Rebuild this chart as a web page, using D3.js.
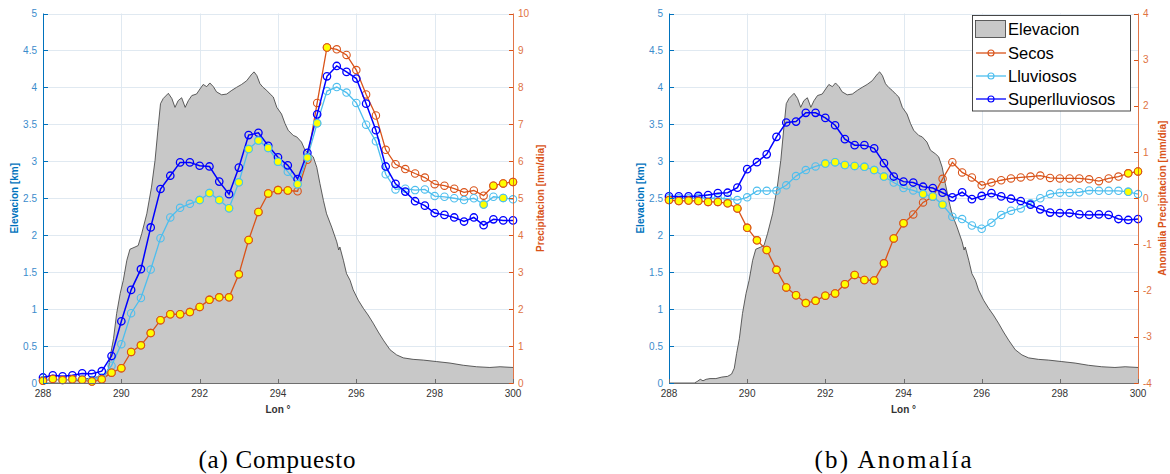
<!DOCTYPE html>
<html>
<head>
<meta charset="utf-8">
<script src="https://cdn.jsdelivr.net/npm/d3@7"></script>
<style>
  body { margin: 0; background: #fff; }
  svg { display: block; }
  text { font-family: "Liberation Sans", Arial, Helvetica, sans-serif; }
</style>
</head>
<body>
<svg id="fig" width="1170" height="474"></svg>
<script>
// Longitude grid of the precipitation profiles (degrees east)
const lonGrid = [288, 288.25, 288.5, 288.75, 289, 289.25, 289.5, 289.75,
  290, 290.25, 290.5, 290.75, 291, 291.25, 291.5, 291.75,
  292, 292.25, 292.5, 292.75, 293, 293.25, 293.5, 293.75,
  294, 294.25, 294.5, 294.75, 295, 295.25, 295.5, 295.75,
  296, 296.25, 296.5, 296.75, 297, 297.25, 297.5, 297.75,
  298, 298.25, 298.5, 298.75, 299, 299.25, 299.5, 299.75, 300];

// (a) Composite precipitation [mm/dia]
const compSecos = [0.06, 0.11, 0.08, 0.10, 0.09, 0.04, 0.10, 0.28,
  0.40, 0.84, 1.02, 1.35, 1.70, 1.86, 1.86, 1.92,
  2.06, 2.25, 2.32, 2.32, 2.94, 3.87, 4.63, 5.13,
  5.22, 5.21, 5.19, 6.04, 7.58, 9.08, 9.03, 8.88,
  8.47, 7.81, 7.24, 6.31, 5.92, 5.79, 5.67, 5.56,
  5.38, 5.34, 5.26, 5.16, 5.21, 5.07, 5.34, 5.40, 5.44];
const compLluviosos = [0.08, 0.10, 0.08, 0.10, 0.10, 0.08, 0.15, 0.47,
  1.05, 1.89, 2.30, 3.07, 3.92, 4.48, 4.74, 4.85,
  4.95, 5.14, 4.95, 4.73, 5.43, 6.33, 6.56, 6.36,
  5.99, 5.72, 5.38, 6.10, 7.03, 7.90, 8.01, 7.86,
  7.58, 6.99, 6.54, 5.65, 5.24, 5.26, 5.22, 5.24,
  5.06, 5.04, 5.00, 4.95, 5.00, 4.83, 5.04, 5.01, 4.97];
const compSuper = [0.15, 0.21, 0.18, 0.21, 0.26, 0.25, 0.32, 0.73,
  1.67, 2.52, 3.08, 4.21, 5.25, 5.61, 5.97, 5.97,
  5.88, 5.86, 5.45, 5.11, 5.83, 6.71, 6.77, 6.42,
  6.11, 5.89, 5.52, 6.23, 7.27, 8.30, 8.58, 8.42,
  8.24, 7.56, 6.84, 5.86, 5.39, 5.18, 4.92, 4.80,
  4.60, 4.55, 4.48, 4.37, 4.48, 4.27, 4.43, 4.40, 4.40];

// (b) Precipitation anomaly [mm/dia]
const anomSecos = [-0.04, -0.06, -0.05, -0.06, -0.08, -0.08, -0.11, -0.22,
  -0.64, -0.91, -1.12, -1.55, -1.93, -2.10, -2.27, -2.22,
  -2.11, -2.06, -1.86, -1.66, -1.77, -1.78, -1.41, -0.87,
  -0.54, -0.35, -0.09, 0.03, 0.42, 0.78, 0.56, 0.45,
  0.28, 0.34, 0.39, 0.43, 0.45, 0.47, 0.49, 0.44,
  0.43, 0.43, 0.43, 0.41, 0.37, 0.43, 0.47, 0.54, 0.58];
const anomLluviosos = [0.00, 0.00, 0.00, 0.01, 0.00, 0.00, -0.01, -0.04,
  0.02, 0.16, 0.16, 0.16, 0.28, 0.48, 0.61, 0.69,
  0.75, 0.78, 0.72, 0.70, 0.68, 0.61, 0.47, 0.34,
  0.22, 0.17, 0.09, 0.04, -0.14, -0.40, -0.45, -0.59,
  -0.66, -0.53, -0.36, -0.27, -0.22, -0.11, 0.00, 0.09,
  0.12, 0.12, 0.13, 0.17, 0.16, 0.16, 0.16, 0.14, 0.09];
const anomSuper = [0.04, 0.04, 0.04, 0.05, 0.07, 0.11, 0.12, 0.23,
  0.63, 0.78, 0.95, 1.33, 1.64, 1.66, 1.85, 1.85,
  1.74, 1.58, 1.28, 1.15, 1.15, 1.08, 0.76, 0.47,
  0.36, 0.34, 0.25, 0.22, 0.12, 0.02, 0.13, -0.02,
  0.05, 0.11, 0.04, -0.01, -0.06, -0.14, -0.24, -0.31,
  -0.32, -0.32, -0.35, -0.36, -0.35, -0.36, -0.45, -0.47, -0.45];

// Longitudes where the value is statistically significant (yellow markers)
const sigCompSecos = [288, 288.25, 288.5, 288.75, 289, 289.25, 289.5, 289.75,
  290, 290.25, 290.5, 290.75, 291, 291.25, 291.5, 291.75,
  292, 292.25, 292.5, 292.75, 293, 293.25, 293.5, 293.75, 294, 294.25,
  295.25, 299.5, 299.75, 300];
const sigCompLluviosos = [292, 292.25, 292.5, 292.75, 293, 293.25, 293.5, 293.75, 294,
  294.5, 294.75, 295, 299.25, 299.75];
const sigAnomSecos = [288, 288.25, 288.5, 288.75, 289, 289.25, 289.5, 289.75,
  290, 290.25, 290.5, 290.75, 291, 291.25, 291.5, 291.75,
  292, 292.25, 292.5, 292.75, 293, 293.25, 293.5, 293.75, 294,
  299.75, 300];
const sigAnomLluviosos = [292, 292.25, 292.5, 292.75, 293, 293.25, 293.5,
  294.5, 294.75, 295, 299.75];

// Topographic cross-section (lon, km)
const elevLon = [288, 288.65, 288.72, 288.8, 288.87, 288.95, 289.05, 289.2, 289.35, 289.5, 289.6,
  289.67, 289.73, 289.8, 289.88, 289.97, 290.05, 290.14, 290.22, 290.35, 290.43, 290.52,
  290.65, 290.77, 290.86, 290.94, 291.0, 291.07, 291.2, 291.29, 291.37, 291.45, 291.54,
  291.63, 291.71, 291.8, 291.92, 292.01, 292.09, 292.18, 292.26, 292.35, 292.43, 292.56,
  292.69, 292.82, 292.94, 293.07, 293.2, 293.33, 293.39, 293.46, 293.54, 293.62, 293.71,
  293.8, 293.88, 293.97, 294.09, 294.18, 294.26, 294.39, 294.48, 294.6, 294.69, 294.82,
  294.9, 294.99, 295.07, 295.16, 295.24, 295.37, 295.5, 295.55, 295.58, 295.67, 295.75,
  295.84, 295.92, 296.05, 296.18, 296.3, 296.43, 296.56, 296.69, 296.86, 297.03, 297.2,
  297.45, 297.71, 298.05, 298.39, 298.73, 299.07, 299.41, 299.67, 300];
const elevKm = [0, 0, 0.02, 0.05, 0.03, 0.05, 0.06, 0.06, 0.08, 0.09, 0.12,
  0.2, 0.4, 0.6, 0.94, 1.21, 1.39, 1.66, 1.81, 1.84, 1.86, 2.02,
  2.29, 2.65, 3.01, 3.46, 3.78, 3.85, 3.92, 3.85, 3.73, 3.82, 3.86,
  3.73, 3.82, 3.89, 3.91, 3.98, 4.04, 4.01, 4.06, 4.01, 3.94, 3.90,
  3.91, 3.96, 4.0, 4.04, 4.09, 4.18, 4.21, 4.16, 4.05, 4.0, 3.96,
  3.91, 3.87, 3.73, 3.64, 3.51, 3.42, 3.35, 3.33, 3.26, 3.15, 3.10,
  3.06, 2.92, 2.70, 2.47, 2.29, 2.11, 1.91, 1.80, 1.84, 1.66, 1.48,
  1.39, 1.26, 1.12, 1.01, 0.92, 0.81, 0.69, 0.58, 0.45, 0.38, 0.34,
  0.32, 0.31, 0.29, 0.27, 0.24, 0.22, 0.21, 0.22, 0.21];

// Axis ticks
const lonTicks = [288, 290, 292, 294, 296, 298, 300];
const elevTicks = [0, 0.5, 1, 1.5, 2, 2.5, 3, 3.5, 4, 4.5, 5];
const precipTicks = [0, 1, 2, 3, 4, 5, 6, 7, 8, 9, 10];
const anomTicks = [-4, -3, -2, -1, 0, 1, 2, 3, 4];

const seriesNames = ["Secos", "Lluviosos", "Superlluviosos"];
const seriesColors = ["#D95319", "#4DBEEE", "#0000FF"];
const leftColor = "#0072BD";
const rightColor = "#D95319";

const svg = d3.select("#fig");

function drawPanel(cfg) {
  const g = svg.append("g");
  const x = d3.scaleLinear().domain([288, 300]).range([cfg.x0, cfg.x1]);
  const yL = d3.scaleLinear().domain([0, 5]).range([cfg.yBot, cfg.yTop]);
  const yR = d3.scaleLinear().domain(cfg.rightDomain).range([cfg.yBot, cfg.yTop]);

  // grid
  const grid = g.append("g").attr("stroke", "#dde7ef").attr("stroke-width", 0.9);
  grid.selectAll("line.gx").data(lonTicks.slice(1, -1)).join("line")
    .attr("x1", d => Math.round(x(d)) + 0.5).attr("x2", d => Math.round(x(d)) + 0.5)
    .attr("y1", cfg.yTop).attr("y2", cfg.yBot);
  grid.selectAll("line.gy").data(elevTicks.slice(1)).join("line")
    .attr("y1", d => Math.round(yL(d)) + 0.5).attr("y2", d => Math.round(yL(d)) + 0.5)
    .attr("x1", cfg.x0).attr("x2", cfg.x1);

  // elevation cross-section
  const elev = elevLon.map((l, i) => [l, elevKm[i]]);
  g.append("path").datum(elev)
    .attr("fill", "#c8c8c8")
    .attr("d", d3.area().x(d => x(d[0])).y0(cfg.yBot).y1(d => yL(d[1])));
  g.append("path").datum(elev)
    .attr("fill", "none").attr("stroke", "#3a3a3a").attr("stroke-width", 0.8)
    .attr("d", d3.line().x(d => x(d[0])).y(d => yL(d[1])));

  // precipitation series with hollow circle markers
  const line = d3.line().x(d => x(d[0])).y(d => yR(d[1]));
  cfg.series.forEach((vals, k) => {
    const pts = lonGrid.map((l, i) => [l, vals[i]]);
    const col = seriesColors[k];
    const sg = g.append("g");
    sg.append("path").datum(pts).attr("fill", "none").attr("stroke", col)
      .attr("stroke-width", k === 2 ? 1.5 : 1.3).attr("d", line);
    sg.selectAll("circle").data(pts).join("circle")
      .attr("cx", d => x(d[0])).attr("cy", d => yR(d[1])).attr("r", 3.7)
      .attr("fill", "none").attr("stroke", col).attr("stroke-width", k === 2 ? 1.3 : 1.1);
  });

  // significant values, filled yellow on top
  cfg.sig.forEach((lons, k) => {
    const vals = cfg.series[k];
    const pts = lons.map(l => [l, vals[lonGrid.indexOf(l)]]);
    g.append("g").selectAll("circle").data(pts).join("circle")
      .attr("cx", d => x(d[0])).attr("cy", d => yR(d[1])).attr("r", 3.7)
      .attr("fill", "#FFFF00").attr("stroke", seriesColors[k]).attr("stroke-width", 1.1);
  });

  // axes
  const ax = g.append("g");
  ax.append("line").attr("x1", cfg.x0).attr("x2", cfg.x1)
    .attr("y1", cfg.yBot + 0.5).attr("y2", cfg.yBot + 0.5).attr("stroke", "#6e6e6e");
  ax.append("line").attr("x1", cfg.x0 + 0.5).attr("x2", cfg.x0 + 0.5)
    .attr("y1", cfg.yTop).attr("y2", cfg.yBot + 1).attr("stroke", leftColor);
  ax.append("line").attr("x1", cfg.x1 + 0.5).attr("x2", cfg.x1 + 0.5)
    .attr("y1", cfg.yTop).attr("y2", cfg.yBot + 1).attr("stroke", rightColor).attr("stroke-opacity", 0.8);

  // x ticks and labels
  ax.selectAll("line.tx").data(lonTicks).join("line")
    .attr("x1", d => Math.round(x(d)) + 0.5).attr("x2", d => Math.round(x(d)) + 0.5)
    .attr("y1", cfg.yBot).attr("y2", cfg.yBot - 4).attr("stroke", "#6e6e6e");
  ax.selectAll("text.tx").data(lonTicks).join("text")
    .attr("x", d => x(d)).attr("y", cfg.yBot + 14)
    .attr("text-anchor", "middle").attr("font-size", 10).attr("fill", "#333")
    .text(d => d);
  ax.append("text").attr("x", (cfg.x0 + cfg.x1) / 2).attr("y", cfg.yBot + 30)
    .attr("text-anchor", "middle").attr("font-size", 10).attr("font-weight", "bold")
    .attr("fill", "#333").text("Lon °");

  // left axis (elevation)
  ax.selectAll("line.tl").data(elevTicks).join("line")
    .attr("x1", cfg.x0).attr("x2", cfg.x0 + 5)
    .attr("y1", d => Math.round(yL(d)) + 0.5).attr("y2", d => Math.round(yL(d)) + 0.5)
    .attr("stroke", leftColor);
  ax.selectAll("text.tl").data(elevTicks).join("text")
    .attr("x", cfg.x0 - 6).attr("y", d => yL(d) + 3.5)
    .attr("text-anchor", "end").attr("font-size", 10).attr("fill", "#3b8ccc")
    .text(d => d);
  ax.append("text")
    .attr("transform", `translate(${cfg.x0 - 25},${(cfg.yTop + cfg.yBot) / 2}) rotate(-90)`)
    .attr("text-anchor", "middle").attr("font-size", 10).attr("font-weight", "bold")
    .attr("fill", leftColor).text("Elevacion [km]");

  // right axis (precipitation)
  ax.selectAll("line.tr").data(cfg.rightTicks).join("line")
    .attr("x1", cfg.x1 - 4).attr("x2", cfg.x1)
    .attr("y1", d => Math.round(yR(d)) + 0.5).attr("y2", d => Math.round(yR(d)) + 0.5)
    .attr("stroke", rightColor);
  ax.selectAll("text.tr").data(cfg.rightTicks).join("text")
    .attr("x", cfg.x1 + 5).attr("y", d => yR(d) + 3.5)
    .attr("text-anchor", "start").attr("font-size", 10).attr("fill", "#e0733f")
    .text(d => String(d));
  ax.append("text")
    .attr("transform", `translate(${cfg.x1 + cfg.rightLabelOffset},${(cfg.yTop + cfg.yBot) / 2}) rotate(-90)`)
    .attr("text-anchor", "middle").attr("font-size", 10).attr("font-weight", "bold")
    .attr("fill", rightColor).text(cfg.rightLabel);

  // caption
  svg.append("text").attr("x", cfg.capX).attr("y", 468)
    .attr("text-anchor", "middle").attr("font-size", 25)
    .attr("textLength", 157).attr("lengthAdjust", "spacing")
    .style("font-family", '"Liberation Serif", "DejaVu Serif", serif')
    .attr("fill", "#000").text(cfg.caption);

  return { x, yL, yR };
}

drawPanel({
  x0: 43, x1: 513, yTop: 13.5, yBot: 383,
  rightDomain: [0, 10], rightTicks: precipTicks,
  rightLabel: "Precipitacion [mm/dia]", rightLabelOffset: 31,
  series: [compSecos, compLluviosos, compSuper],
  sig: [sigCompSecos, sigCompLluviosos],
  caption: "(a) Compuesto", capX: 277
});

drawPanel({
  x0: 669, x1: 1138, yTop: 13.5, yBot: 383,
  rightDomain: [-4, 4], rightTicks: anomTicks,
  rightLabel: "Anomalia Precipitacion [mm/dia]", rightLabelOffset: 28,
  series: [anomSecos, anomLluviosos, anomSuper],
  sig: [sigAnomSecos, sigAnomLluviosos],
  caption: "(b) Anomalía", capX: 893
});

// legend
const leg = svg.append("g");
leg.append("rect").attr("x", 972.5).attr("y", 15.5).attr("width", 158).attr("height", 95.5)
  .attr("fill", "#fff").attr("stroke", "#333").attr("stroke-width", 0.9);
const legRows = [
  { name: "Elevacion", y: 29 },
  { name: seriesNames[0], y: 53, color: seriesColors[0] },
  { name: seriesNames[1], y: 76, color: seriesColors[1] },
  { name: seriesNames[2], y: 99, color: seriesColors[2] }
];
legRows.forEach(r => {
  if (!r.color) {
    leg.append("rect").attr("x", 975.5).attr("y", r.y - 8.5).attr("width", 30).attr("height", 17)
      .attr("fill", "#c8c8c8").attr("stroke", "#3a3a3a").attr("stroke-width", 0.8);
  } else {
    leg.append("line").attr("x1", 976).attr("x2", 1006).attr("y1", r.y).attr("y2", r.y)
      .attr("stroke", r.color).attr("stroke-width", 1.3);
    leg.append("circle").attr("cx", 991).attr("cy", r.y).attr("r", 3)
      .attr("fill", "none").attr("stroke", r.color).attr("stroke-width", 1.1);
  }
  leg.append("text").attr("x", 1008).attr("y", r.y + 6).attr("font-size", 16.5)
    .attr("fill", "#000").text(r.name);
});
</script>
</body>
</html>
